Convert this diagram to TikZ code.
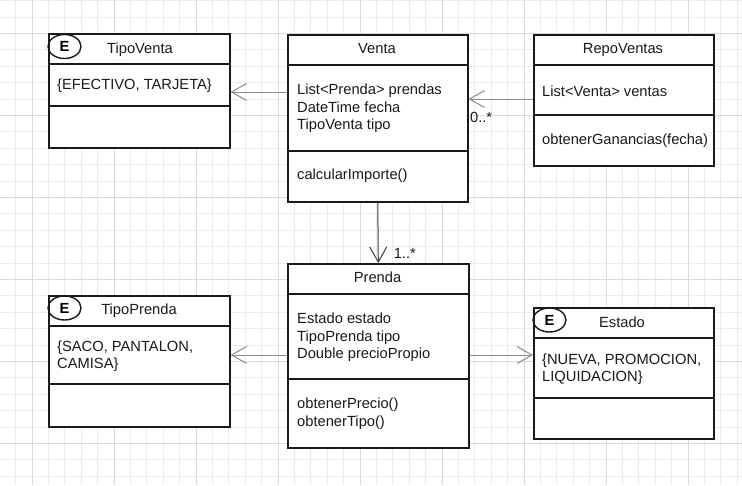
\documentclass[tikz,border=0pt]{standalone}
\usepackage{fontspec}
\setmainfont{Liberation Sans}
\usepackage{tikz}
\usetikzlibrary{arrows.meta,shapes.geometric}
\definecolor{inkc}{HTML}{1A1A1A}
\definecolor{gridc}{HTML}{EBEBEB}
\definecolor{gridm}{HTML}{DADADA}
\definecolor{linkc}{HTML}{8C8C8C}
\tikzset{
  cls/.style={draw=inkc,line width=1.6pt,fill=white,anchor=north west,inner sep=0pt},
  sep/.style={draw=inkc,line width=1.6pt},
  ttl/.style={font=\fontsize{14.7}{17.6}\selectfont,text=inkc,inner sep=0pt,text height=10.5pt,text depth=3pt},
  mbr/.style={font=\fontsize{14.7}{17.6}\selectfont,text=inkc,inner sep=0pt,anchor=west,align=left},
  enm/.style={ellipse,draw=inkc,line width=1.4pt,minimum width=33pt,minimum height=24pt,inner sep=0pt,font=\bfseries\fontsize{14.7}{17.6}\selectfont},
  assoc/.style={-{Straight Barb[length=15pt,width=17pt]},linkc,line width=1pt},
  mult/.style={font=\fontsize{14.7}{17.6}\selectfont,text=inkc,inner sep=0pt,anchor=west}
}
\begin{document}
\begin{tikzpicture}[x=1pt,y=-1pt]
\useasboundingbox[fill=white] (0,0) rectangle (742,485);
\begin{scope}
\clip (0,0) rectangle (742,485);
\foreach \k in {0,...,45} \draw[gridc,line width=0.8pt] (-0.8+16.4*\k,0) -- (-0.8+16.4*\k,485);
\foreach \k in {0,...,29} \draw[gridc,line width=0.8pt] (0,0.5+16.4*\k) -- (742,0.5+16.4*\k);
\foreach \k in {2,7,...,42} \draw[gridm,line width=0.8pt] (-0.8+16.4*\k,0) -- (-0.8+16.4*\k,485);
\foreach \k in {2,7,...,27} \draw[gridm,line width=0.8pt] (0,0.5+16.4*\k) -- (742,0.5+16.4*\k);
\end{scope}

\node[cls,minimum width=181pt,minimum height=114pt] (tipoventa) at (48,33) {};
\draw[sep] (tipoventa.west |- 0,64) -- (tipoventa.east |- 0,64);
\draw[sep] (tipoventa.west |- 0,106) -- (tipoventa.east |- 0,106);
\node[enm] (tipoventaE) at (64.5,46.5) {E};
\node[ttl] (tipoventaN) at (140,49.5) {TipoVenta};
\node[mbr] (tipoventaA) at (57,86) {\{EFECTIVO, TARJETA\}};

\node[cls,minimum width=180pt,minimum height=167pt] (venta) at (287,34) {};
\draw[sep] (venta.west |- 0,65) -- (venta.east |- 0,65);
\draw[sep] (venta.west |- 0,151) -- (venta.east |- 0,151);
\node[ttl] (ventaN) at (377,49.5) {Venta};
\node[mbr] (ventaA) at (297,108.5) {List<Prenda> prendas\\DateTime fecha\\TipoVenta tipo};
\node[mbr] (ventaM) at (297,176) {calcularImporte()};

\node[cls,minimum width=180pt,minimum height=131pt] (repo) at (533,34) {};
\draw[sep] (repo.west |- 0,65) -- (repo.east |- 0,65);
\draw[sep] (repo.west |- 0,115) -- (repo.east |- 0,115);
\node[ttl] (repoN) at (623,49.5) {RepoVentas};
\node[mbr] (repoA) at (542,91) {List<Venta> ventas};
\node[mbr] (repoM) at (542,141) {obtenerGanancias(fecha)};

\node[cls,minimum width=181pt,minimum height=184pt] (prenda) at (287,263) {};
\draw[sep] (prenda.west |- 0,294) -- (prenda.east |- 0,294);
\draw[sep] (prenda.west |- 0,379) -- (prenda.east |- 0,379);
\node[ttl] (prendaN) at (377.5,278.5) {Prenda};
\node[mbr] (prendaA) at (297,337.5) {Estado estado\\TipoPrenda tipo\\Double precioPropio};
\node[mbr] (prendaM) at (297,413.5) {obtenerPrecio()\\obtenerTipo()};

\node[cls,minimum width=181pt,minimum height=131pt] (tipoprenda) at (48,295) {};
\draw[sep] (tipoprenda.west |- 0,326) -- (tipoprenda.east |- 0,326);
\draw[sep] (tipoprenda.west |- 0,384) -- (tipoprenda.east |- 0,384);
\node[enm] (tipoprendaE) at (64.5,308) {E};
\node[ttl] (tipoprendaN) at (139,311) {TipoPrenda};
\node[mbr] (tipoprendaA) at (57,356) {\{SACO, PANTALON,\\CAMISA\}};

\node[cls,minimum width=180pt,minimum height=131pt] (estado) at (533,307) {};
\draw[sep] (estado.west |- 0,338) -- (estado.east |- 0,338);
\draw[sep] (estado.west |- 0,398) -- (estado.east |- 0,398);
\node[enm] (estadoE) at (549.5,320) {E};
\node[ttl] (estadoN) at (622,323.5) {Estado};
\node[mbr] (estadoA) at (542,369) {\{NUEVA, PROMOCION,\\LIQUIDACION\}};

\draw[assoc] (venta.west |- 0,92) -- (tipoventa.east |- 0,92);
\draw[assoc] (repo.west |- 0,99) -- (venta.east |- 0,99) node[mult,pos=1,xshift=1pt,yshift=-18.5pt] (mulventa) {0..*};
\draw[assoc,black!75] (venta.south) -- (prenda.north) node[mult,pos=1,xshift=15pt,yshift=9.5pt] (mulprenda) {1..*};
\draw[assoc] (prenda.west |- 0,355) -- (tipoprenda.east |- 0,355);
\draw[assoc] (prenda.east |- 0,355) -- (estado.west |- 0,355);
\end{tikzpicture}
\end{document}
